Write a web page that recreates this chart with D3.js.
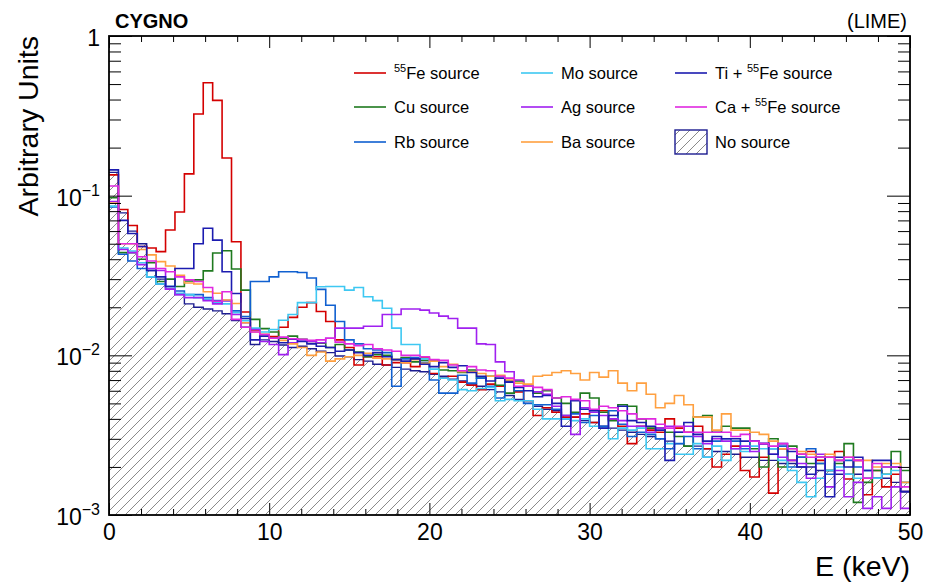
<!DOCTYPE html>
<html>
<head>
<meta charset="utf-8">
<script src="https://cdn.jsdelivr.net/npm/d3@7"></script>
<style>
  body { margin: 0; background: #fff; }
  svg { display: block; font-family: "Liberation Sans", Arial, Helvetica, sans-serif; }
</style>
</head>
<body>
<svg id="chart" width="938" height="582"></svg>
<script>
//binning and axis values
var eMin = 0, eMax = 50, nBins = 85;
var xTicks = [0, 10, 20, 30, 40, 50];
var yTicks = [1e-3, 1e-2, 1e-1, 1];
var yTickBase = ["10", "10", "10", "1"];
var yTickExp = ["\u22123", "\u22122", "\u22121", ""];

//normalised spectra, one value per bin
var fe55 = [0.135, 0.082, 0.065, 0.048, 0.047, 0.0446, 0.061, 0.079, 0.137, 0.325,
  0.51, 0.395, 0.172, 0.0515, 0.0187, 0.0144, 0.0135, 0.0131, 0.0150, 0.0173,
  0.0200, 0.0214, 0.0188, 0.0163, 0.0125, 0.0112, 0.0087, 0.0098, 0.0098, 0.0087,
  0.0090, 0.0090, 0.0085, 0.0096, 0.0077, 0.0072, 0.0074, 0.0068, 0.0065, 0.0061,
  0.0066, 0.0064, 0.0069, 0.0059, 0.0052, 0.0042, 0.0047, 0.0044, 0.0041, 0.0041,
  0.0043, 0.0038, 0.0045, 0.0040, 0.0036, 0.0028, 0.0036, 0.0034, 0.0033, 0.0040,
  0.0035, 0.0033, 0.0036, 0.0026, 0.0020, 0.0024, 0.0027, 0.0019, 0.00173, 0.0023,
  0.00137, 0.0026, 0.0022, 0.0024, 0.0025, 0.0022, 0.0023, 0.0025, 0.00168, 0.0022,
  0.00134, 0.0019, 0.0015, 0.0018, 0.0014];
var cu = [0.097, 0.044, 0.044, 0.040, 0.038, 0.029, 0.030, 0.027, 0.0292, 0.0297,
  0.0338, 0.0437, 0.0452, 0.0347, 0.0256, 0.0168, 0.0147, 0.0140, 0.0128, 0.0132,
  0.0126, 0.0122, 0.0119, 0.0112, 0.0117, 0.0108, 0.0105, 0.0098, 0.0101, 0.0100,
  0.0094, 0.0097, 0.0091, 0.0093, 0.0093, 0.0081, 0.0080, 0.0078, 0.0081, 0.0072,
  0.0074, 0.0065, 0.0058, 0.0069, 0.0064, 0.0058, 0.0060, 0.0054, 0.0050, 0.0044,
  0.0058, 0.0054, 0.0044, 0.0039, 0.0049, 0.0048, 0.0040, 0.0035, 0.0035, 0.0033,
  0.0031, 0.0027, 0.0041, 0.0042, 0.0033, 0.0036, 0.0035, 0.0035, 0.0026, 0.0020,
  0.0030, 0.0020, 0.0027, 0.0023, 0.0021, 0.0021, 0.0019, 0.0021, 0.0028, 0.0012,
  0.0016, 0.0019, 0.0018, 0.0025, 0.0019];
var rb = [0.085, 0.043, 0.039, 0.035, 0.031, 0.028, 0.027, 0.0253, 0.024, 0.024,
  0.023, 0.022, 0.022, 0.019, 0.0175, 0.029, 0.029, 0.031, 0.0334, 0.0334,
  0.033, 0.0305, 0.0259, 0.0206, 0.0163, 0.0125, 0.0118, 0.0110, 0.0108, 0.0104,
  0.0064, 0.0095, 0.0097, 0.0090, 0.0070, 0.0058, 0.0058, 0.0075, 0.0067, 0.0072,
  0.0064, 0.0054, 0.0069, 0.0060, 0.0050, 0.0049, 0.0049, 0.0046, 0.0040, 0.0043,
  0.0038, 0.0042, 0.0036, 0.0045, 0.0037, 0.0031, 0.0033, 0.0032, 0.0030, 0.0026,
  0.0028, 0.0031, 0.0026, 0.0023, 0.0029, 0.0030, 0.0029, 0.0026, 0.0029, 0.0028,
  0.0026, 0.0027, 0.0020, 0.0023, 0.0026, 0.0021, 0.0018, 0.0022, 0.0022, 0.0020,
  0.0019, 0.0017, 0.0020, 0.0020, 0.0014];
var mo = [0.086, 0.047, 0.045, 0.038, 0.031, 0.028, 0.027, 0.0245, 0.024, 0.023,
  0.0225, 0.0215, 0.021, 0.0185, 0.0165, 0.0148, 0.0140, 0.0145, 0.0166, 0.0180,
  0.0214, 0.0214, 0.0269, 0.0270, 0.0270, 0.0256, 0.0266, 0.0233, 0.0220, 0.0197,
  0.0148, 0.0117, 0.0117, 0.0095, 0.0082, 0.0072, 0.0070, 0.0061, 0.0060, 0.0062,
  0.0063, 0.0052, 0.0053, 0.0052, 0.0052, 0.0046, 0.0040, 0.0040, 0.0040, 0.0039,
  0.0040, 0.0036, 0.0035, 0.0030, 0.0035, 0.0034, 0.0035, 0.0026, 0.0026, 0.0028,
  0.0024, 0.0024, 0.0028, 0.0023, 0.0027, 0.0022, 0.0026, 0.0025, 0.0027, 0.0026,
  0.0026, 0.0022, 0.0019, 0.0016, 0.0013, 0.0017, 0.0019, 0.0020, 0.0018, 0.0017,
  0.0019, 0.0017, 0.0018, 0.0019, 0.0016];
var ag = [0.092, 0.046, 0.044, 0.037, 0.035, 0.034, 0.026, 0.024, 0.023, 0.023,
  0.022, 0.021, 0.022, 0.018, 0.016, 0.0145, 0.0122, 0.0117, 0.0101, 0.0120,
  0.0125, 0.0122, 0.0120, 0.0128, 0.0148, 0.0148, 0.0148, 0.0152, 0.0152, 0.0180,
  0.0180, 0.0195, 0.0195, 0.0192, 0.0184, 0.0176, 0.0170, 0.0148, 0.0148, 0.0118,
  0.0117, 0.0091, 0.0079, 0.0070, 0.0064, 0.0059, 0.0057, 0.0048, 0.0042, 0.0032,
  0.0047, 0.0044, 0.0042, 0.0040, 0.0039, 0.0036, 0.0036, 0.0033, 0.0035, 0.0036,
  0.0033, 0.0036, 0.0031, 0.0028, 0.0030, 0.0029, 0.0026, 0.0027, 0.0025, 0.0028,
  0.0024, 0.0023, 0.0022, 0.0021, 0.0017, 0.0024, 0.0015, 0.0019, 0.0013, 0.0016,
  0.0011, 0.0013, 0.0011, 0.0015, 0.0011];
var ba = [0.090, 0.050, 0.050, 0.046, 0.0426, 0.0386, 0.0363, 0.0317, 0.0284, 0.028,
  0.025, 0.0245, 0.0222, 0.0211, 0.0160, 0.0140, 0.0135, 0.0128, 0.0124, 0.0118,
  0.0112, 0.0100, 0.0105, 0.0092, 0.0095, 0.0098, 0.0100, 0.0103, 0.0096, 0.0095,
  0.0094, 0.0090, 0.0094, 0.0089, 0.0092, 0.0085, 0.0088, 0.0079, 0.0079, 0.0077,
  0.0074, 0.0075, 0.0070, 0.0067, 0.0066, 0.0074, 0.0075, 0.0078, 0.0080, 0.0077,
  0.0070, 0.0078, 0.0073, 0.0080, 0.0067, 0.0060, 0.0067, 0.0057, 0.0047, 0.0050,
  0.0056, 0.0049, 0.0041, 0.0041, 0.0034, 0.0043, 0.0034, 0.0034, 0.0033, 0.0032,
  0.0029, 0.0026, 0.0026, 0.0025, 0.0024, 0.0023, 0.0024, 0.0022, 0.0023, 0.0022,
  0.0022, 0.0020, 0.0021, 0.0021, 0.0016];
var tiFe = [0.145, 0.070, 0.058, 0.048, 0.034, 0.031, 0.027, 0.035, 0.035, 0.050,
  0.0625, 0.0527, 0.0334, 0.0244, 0.0170, 0.0125, 0.0132, 0.0128, 0.0120, 0.0126,
  0.0122, 0.0118, 0.0114, 0.0112, 0.0106, 0.0108, 0.0104, 0.0100, 0.0104, 0.0098,
  0.0094, 0.0092, 0.0095, 0.0088, 0.0085, 0.0090, 0.0084, 0.0086, 0.0078, 0.0074,
  0.0069, 0.0072, 0.0068, 0.0063, 0.0060, 0.0055, 0.0056, 0.0050, 0.0036, 0.0052,
  0.0046, 0.0045, 0.0035, 0.0042, 0.0048, 0.0039, 0.0038, 0.0036, 0.0034, 0.0022,
  0.0033, 0.0038, 0.0032, 0.0029, 0.0031, 0.0030, 0.0030, 0.0029, 0.0029, 0.0028,
  0.0024, 0.0028, 0.0025, 0.0020, 0.0018, 0.0023, 0.0013, 0.0023, 0.0020, 0.0023,
  0.0019, 0.0022, 0.0022, 0.0020, 0.0014];
var caFe = [0.115, 0.050, 0.050, 0.0414, 0.039, 0.035, 0.0334, 0.031, 0.0297, 0.029,
  0.0266, 0.0218, 0.025, 0.0168, 0.0150, 0.0140, 0.0135, 0.0128, 0.0130, 0.0127,
  0.0126, 0.0124, 0.0125, 0.0128, 0.0121, 0.0118, 0.0115, 0.0117, 0.0110, 0.0108,
  0.0106, 0.0100, 0.0100, 0.0098, 0.0094, 0.0093, 0.0087, 0.0080, 0.0085, 0.0081,
  0.0080, 0.0074, 0.0072, 0.0064, 0.0064, 0.0063, 0.0061, 0.0054, 0.0055, 0.0053,
  0.0052, 0.0046, 0.0048, 0.0047, 0.0045, 0.0043, 0.0040, 0.0040, 0.0037, 0.0035,
  0.0036, 0.0033, 0.0033, 0.0033, 0.0033, 0.0033, 0.0031, 0.0032, 0.0029, 0.0028,
  0.0027, 0.0028, 0.0026, 0.0024, 0.0023, 0.0023, 0.0023, 0.0022, 0.0023, 0.0022,
  0.0017, 0.0021, 0.0020, 0.0020, 0.0015];
var noSource = [0.140, 0.078, 0.060, 0.050, 0.034, 0.030, 0.026, 0.024, 0.021, 0.020,
  0.0195, 0.019, 0.0182, 0.0165, 0.0150, 0.0117, 0.0125, 0.0122, 0.0116, 0.0112,
  0.0114, 0.0110, 0.0106, 0.0104, 0.0099, 0.0098, 0.0094, 0.0092, 0.0088, 0.0087,
  0.0084, 0.0082, 0.0080, 0.0079, 0.0076, 0.0074, 0.0071, 0.0069, 0.0066, 0.0064,
  0.0061, 0.0059, 0.0056, 0.0053, 0.0050, 0.0048, 0.0046, 0.0045, 0.0042, 0.0041,
  0.0039, 0.0038, 0.0036, 0.0035, 0.0034, 0.0033, 0.0032, 0.0031, 0.0030, 0.0029,
  0.0028, 0.0027, 0.0027, 0.0026, 0.0025, 0.0025, 0.0024, 0.0023, 0.0023, 0.0022,
  0.0022, 0.0021, 0.0021, 0.0020, 0.0020, 0.0019, 0.0019, 0.0018, 0.0018, 0.0018,
  0.0017, 0.0017, 0.0017, 0.0016, 0.0016];

//legend names: text before superscript, superscript, text after
var namePre = ["", "Cu source", "Rb source", "Mo source", "Ag source", "Ba source", "Ti + ", "Ca + "];
var nameSup = ["55", "", "", "", "", "", "55", "55"];
var namePost = ["Fe source", "", "", "", "", "", "Fe source", "Fe source"];
var noSourceName = "No source";
//

var series = [fe55, cu, rb, mo, ag, ba, tiFe, caFe];
var colors = ["#d40000", "#1f7a1f", "#1060d0", "#3ec8f2", "#a020f0", "#ffa040", "#1c1cb0", "#e028e0"];
var noSourceLine = "#1c1c90";

//plot frame in pixels
var pLeft = 109, pRight = 910, pTop = 36, pBottom = 515;
var font = "'Liberation Sans', Arial, Helvetica, sans-serif";

var svg = d3.select("#chart");
svg.append("rect").attr("width", 938).attr("height", 582).attr("fill", "#fff");

var x = d3.scaleLinear().domain([eMin, eMax]).range([pLeft, pRight]);
var y = d3.scaleLog().domain([1e-3, 1]).range([pBottom, pTop]);
var binW = (eMax - eMin) / nBins;

//hatch pattern and clip
var defs = svg.append("defs");
var pat = defs.append("pattern")
    .attr("id", "hatch")
    .attr("patternUnits", "userSpaceOnUse")
    .attr("width", 10)
    .attr("height", 10);
pat.append("path")
    .attr("d", "M0,10 L10,0 M-2.5,2.5 L2.5,-2.5 M7.5,12.5 L12.5,7.5")
    .style("stroke", "#8a8a8a")
    .style("stroke-width", 1);
defs.append("clipPath").attr("id", "plotClip")
    .append("rect")
    .attr("x", pLeft).attr("y", pTop)
    .attr("width", pRight - pLeft).attr("height", pBottom - pTop);

//step path for a histogram
function stepSegs(vals) {
    var p = "";
    for (var i = 0; i < vals.length; i++) {
        p += "H" + x(eMin + (i + 1) * binW);
        if (i + 1 < vals.length) p += "V" + y(vals[i + 1]);
    }
    return p;
}
function stepPath(vals) {
    return "M" + x(eMin) + "," + y(vals[0]) + stepSegs(vals);
}
function areaPath(vals) {
    return "M" + x(eMin) + "," + pBottom + "V" + y(vals[0]) + stepSegs(vals) + "V" + pBottom + "Z";
}

var plot = svg.append("g").attr("clip-path", "url(#plotClip)");

// no source, hatched
plot.append("path")
    .attr("d", areaPath(noSource))
    .style("fill", "url(#hatch)")
    .style("stroke", "none");
plot.append("path")
    .attr("d", stepPath(noSource))
    .style("fill", "none")
    .style("stroke", noSourceLine)
    .style("stroke-width", 1.4);

// the sources
for (var s = 0; s < series.length; s++) {
    plot.append("path")
        .attr("d", stepPath(series[s]))
        .style("fill", "none")
        .style("stroke", colors[s])
        .style("stroke-width", 1.6);
}

//axes
var xMinor = d3.range(eMin, eMax + 1, 2).filter(function (d) { return d % 10 != 0; });
var yMinor = [];
[1e-3, 1e-2, 1e-1].forEach(function (dec) {
    for (var k = 2; k <= 9; k++) yMinor.push(k * dec);
});

function cleanAxis(g) {
    g.select(".domain").remove();
    g.selectAll("line").style("stroke", "#000").style("stroke-width", 1);
}

svg.append("g").attr("transform", "translate(0," + pBottom + ")")
    .call(d3.axisBottom(x).tickValues(xTicks).tickSize(-12).tickSizeOuter(0).tickPadding(9).tickFormat(d3.format("d")))
    .call(cleanAxis)
    .attr("font-size", 23).attr("font-family", font)
    .selectAll("text").style("fill", "#000");
svg.append("g").attr("transform", "translate(0," + pBottom + ")")
    .call(d3.axisBottom(x).tickValues(xMinor).tickSize(-6).tickSizeOuter(0).tickFormat(""))
    .call(cleanAxis);
svg.append("g").attr("transform", "translate(0," + pTop + ")")
    .call(d3.axisTop(x).tickValues(xTicks).tickSize(-12).tickSizeOuter(0).tickFormat(""))
    .call(cleanAxis);
svg.append("g").attr("transform", "translate(0," + pTop + ")")
    .call(d3.axisTop(x).tickValues(xMinor).tickSize(-6).tickSizeOuter(0).tickFormat(""))
    .call(cleanAxis);

svg.append("g").attr("transform", "translate(" + pLeft + ",0)")
    .call(d3.axisLeft(y).tickValues(yTicks).tickSize(-23).tickSizeOuter(0).tickFormat(""))
    .call(cleanAxis);
svg.append("g").attr("transform", "translate(" + pLeft + ",0)")
    .call(d3.axisLeft(y).tickValues(yMinor).tickSize(-12).tickSizeOuter(0).tickFormat(""))
    .call(cleanAxis);
svg.append("g").attr("transform", "translate(" + pRight + ",0)")
    .call(d3.axisRight(y).tickValues(yTicks).tickSize(-23).tickSizeOuter(0).tickFormat(""))
    .call(cleanAxis);
svg.append("g").attr("transform", "translate(" + pRight + ",0)")
    .call(d3.axisRight(y).tickValues(yMinor).tickSize(-12).tickSizeOuter(0).tickFormat(""))
    .call(cleanAxis);

// y tick labels with exponents
yTicks.forEach(function (v, i) {
    var t = svg.append("text")
        .attr("x", pLeft - 9)
        .attr("y", y(v) + 10)
        .attr("text-anchor", "end")
        .style("font-family", font)
        .style("font-size", "23px")
        .style("fill", "#000");
    t.append("tspan").text(yTickBase[i]);
    if (yTickExp[i] != "") {
        t.append("tspan").text(yTickExp[i])
            .attr("dy", -10)
            .style("font-size", "16px");
    }
});

//frame
svg.append("rect")
    .attr("x", pLeft).attr("y", pTop)
    .attr("width", pRight - pLeft).attr("height", pBottom - pTop)
    .style("fill", "none")
    .style("stroke", "#000")
    .style("stroke-width", 1.8);

//titles
svg.append("text")
    .attr("x", pRight).attr("y", 576)
    .attr("text-anchor", "end")
    .style("font-family", font).style("font-size", "28.5px")
    .text("E (keV)");
svg.append("text")
    .attr("transform", "translate(38," + pTop + ") rotate(-90)")
    .attr("text-anchor", "end")
    .style("font-family", font).style("font-size", "28.5px")
    .text("Arbitrary Units");
svg.append("text")
    .attr("x", 115).attr("y", 28)
    .style("font-family", font).style("font-size", "20px").style("font-weight", "bold")
    .text("CYGNO");
svg.append("text")
    .attr("x", 907).attr("y", 28)
    .attr("text-anchor", "end")
    .style("font-family", font).style("font-size", "20px")
    .text("(LIME)");

//legend
var legX = [354, 521, 675],
    legY = [73, 107, 142],
    legLine = 32, legGap = 8;
var legend = svg.append("g").style("font-family", font).style("font-size", "16.5px");

for (var k = 0; k < 9; k++) {
    var cx = legX[Math.floor(k / 3)], cy = legY[k % 3];
    if (k < 8) {
        legend.append("line")
            .attr("x1", cx).attr("x2", cx + legLine)
            .attr("y1", cy).attr("y2", cy)
            .style("stroke", colors[k])
            .style("stroke-width", 1.6);
        var t = legend.append("text")
            .attr("x", cx + legLine + legGap)
            .attr("y", cy + 6);
        if (namePre[k] != "") t.append("tspan").text(namePre[k]);
        if (nameSup[k] != "") {
            t.append("tspan").text(nameSup[k]).attr("dy", -7).style("font-size", "11px");
            t.append("tspan").text(namePost[k]).attr("dy", 7);
        }
    } else {
        legend.append("rect")
            .attr("x", cx).attr("y", cy - 12)
            .attr("width", legLine).attr("height", 24)
            .style("fill", "url(#hatch)")
            .style("stroke", noSourceLine)
            .style("stroke-width", 1.4);
        legend.append("text")
            .attr("x", cx + legLine + legGap)
            .attr("y", cy + 6)
            .text(noSourceName);
    }
}
</script>
</body>
</html>
